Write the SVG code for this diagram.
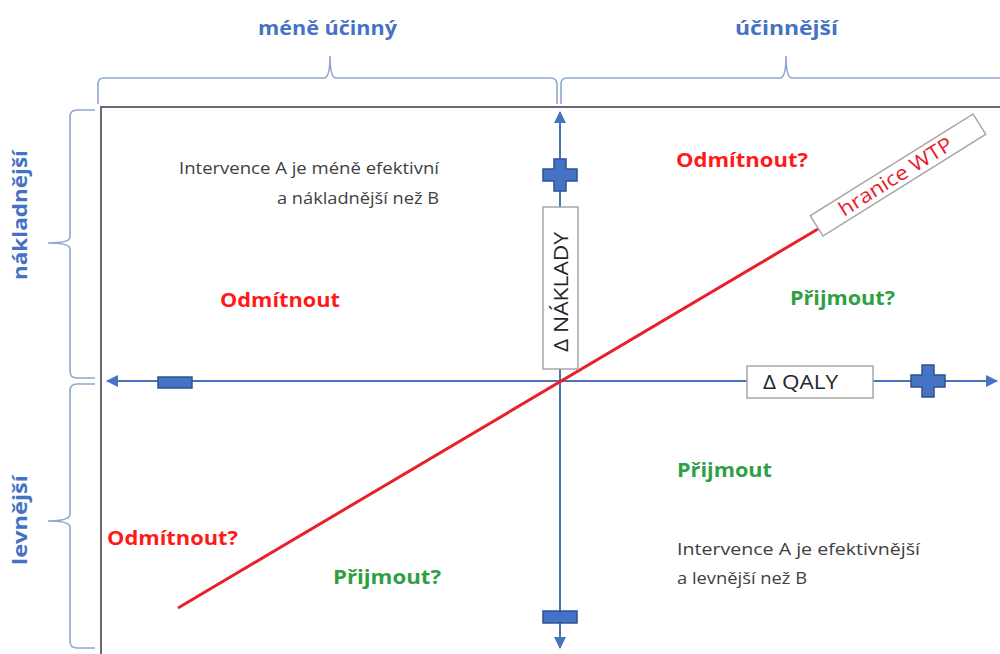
<svg xmlns="http://www.w3.org/2000/svg" width="1000" height="654" viewBox="0 0 1000 654">
  <defs>
    <style>
      .brace { fill: none; stroke: #8EA6D0; stroke-width: 1.6; }
      .axis { stroke: #4A72B8; stroke-width: 2; fill: none; }
      .frame { stroke: #6B6B6B; stroke-width: 2; fill: none; }
      .sym { fill: #4472C4; stroke: #2F528F; stroke-width: 1.5; }
      .lbox { fill: #FFFFFF; stroke: #A6A6A6; stroke-width: 1.5; }
      text { font-family: "Open Sans", "Liberation Sans", sans-serif; }
      .head { font-weight: bold; font-size: 19px; fill: #4472C4; }
      .note { font-size: 16px; fill: #404040; }
      .red { font-weight: bold; font-size: 20px; fill: #FF1A1A; }
      .green { font-weight: bold; font-size: 20px; fill: #2EA043; }
      .axlabel { font-size: 20px; fill: #262626; }
    </style>
    <marker id="tip" viewBox="0 0 12 12" refX="11" refY="6" markerWidth="12" markerHeight="12" orient="auto-start-reverse" markerUnits="userSpaceOnUse">
      <path d="M0,0 L12,6 L0,12 z" fill="#4472C4"/>
    </marker>
  </defs>

  <rect width="1000" height="654" fill="#FFFFFF"/>

  <!-- frame: top and left edges -->
  <g id="frame">
    <path class="frame" d="M101,654 L101,107 L1000,107"/>
  </g>

  <!-- category braces -->
  <g id="braces">
    <path class="brace" d="M98,104 L98,84 Q98,78 104,78 L324,78 Q330,78 330,56 Q330,78 336,78 L550,78 Q557,78 557,84 L557,104"/>
    <path class="brace" d="M561,104 L561,84 Q561,78 567,78 L780,78 Q786,78 786,56 Q786,78 792,78 L1000,78"/>
    <path class="brace" d="M95,110 L77,110 Q70,110 70,117 L70,237 Q70,243 48,243 Q70,243 70,249 L70,371 Q70,378 77,378 L95,378"/>
    <path class="brace" d="M95,384 L77,384 Q70,384 70,391 L70,514 Q70,521 48,521 Q70,521 70,527 L70,641 Q70,648 77,648 L95,648"/>
  </g>

  <g id="label-less-effective"><text class="head" x="258" y="35" textLength="139" lengthAdjust="spacingAndGlyphs">méně účinný</text></g>
  <g id="label-more-effective"><text class="head" x="735" y="35" textLength="103" lengthAdjust="spacingAndGlyphs">účinnější</text></g>
  <g id="label-costlier"><text class="head" transform="translate(27,280) rotate(-90)" textLength="130" lengthAdjust="spacingAndGlyphs">nákladnější</text></g>
  <g id="label-cheaper"><text class="head" transform="translate(27,565) rotate(-90)" textLength="90" lengthAdjust="spacingAndGlyphs">levnější</text></g>

  <!-- axes -->
  <g id="connectors">
    <line class="axis" x1="560" y1="381" x2="560" y2="112" marker-end="url(#tip)"/>
    <line class="axis" x1="560" y1="381" x2="560" y2="648" marker-end="url(#tip)"/>
    <line class="axis" x1="560" y1="381" x2="997" y2="381" marker-end="url(#tip)"/>
    <line class="axis" x1="560" y1="381" x2="107" y2="381" marker-end="url(#tip)"/>
    <!-- willingness-to-pay threshold -->
    <line x1="178" y1="608" x2="818" y2="229" stroke="#E8202A" stroke-width="3"/>
  </g>

  <!-- plus / minus markers on the axes -->
  <g id="cost-plus"><path class="sym" d="M554,159 h12 v10 h11 v12 h-11 v10 h-12 v-10 h-11 v-12 h11 z"/></g>
  <g id="qaly-plus"><path class="sym" d="M922,365 h12 v10 h11 v12 h-11 v10 h-12 v-10 h-11 v-12 h11 z"/></g>
  <g id="qaly-minus"><rect class="sym" x="158" y="377" width="34" height="11"/></g>
  <g id="cost-minus"><rect class="sym" x="543" y="611" width="34" height="12"/></g>

  <!-- axis labels -->
  <g id="cost-axis-label">
    <rect class="lbox" x="543" y="207" width="35" height="162"/>
    <text class="axlabel" transform="translate(568,352) rotate(-90)" textLength="120" lengthAdjust="spacingAndGlyphs">Δ NÁKLADY</text>
  </g>
  <g id="qaly-axis-label">
    <rect class="lbox" x="747" y="366" width="126" height="32"/>
    <text class="axlabel" x="763" y="389" textLength="75" lengthAdjust="spacingAndGlyphs">Δ QALY</text>
  </g>
  <g id="wtp-label">
    <g transform="translate(898,175) rotate(-32)">
      <rect class="lbox" x="-96" y="-12" width="192" height="24"/>
      <text x="-68" y="7" textLength="130" lengthAdjust="spacingAndGlyphs" font-size="20" fill="#E8202A">hranice WTP</text>
    </g>
  </g>

  <!-- quadrant annotations -->
  <g id="note-nw">
    <text class="note" x="179" y="174" textLength="260" lengthAdjust="spacingAndGlyphs">Intervence A je méně efektivní</text>
    <text class="note" x="277" y="204" textLength="162" lengthAdjust="spacingAndGlyphs">a nákladnější než B</text>
  </g>
  <g id="note-se">
    <text class="note" x="677" y="555" textLength="243" lengthAdjust="spacingAndGlyphs">Intervence A je efektivnější</text>
    <text class="note" x="677" y="584" textLength="130" lengthAdjust="spacingAndGlyphs">a levnější než B</text>
  </g>

  <g id="ne-reject"><text class="red" x="676" y="167" textLength="132" lengthAdjust="spacingAndGlyphs">Odmítnout?</text></g>
  <g id="nw-reject"><text class="red" x="220" y="307" textLength="120" lengthAdjust="spacingAndGlyphs">Odmítnout</text></g>
  <g id="ne-accept"><text class="green" x="790" y="305" textLength="105" lengthAdjust="spacingAndGlyphs">Přijmout?</text></g>
  <g id="se-accept"><text class="green" x="677" y="477" textLength="95" lengthAdjust="spacingAndGlyphs">Přijmout</text></g>
  <g id="sw-reject"><text class="red" x="107" y="545" textLength="131" lengthAdjust="spacingAndGlyphs">Odmítnout?</text></g>
  <g id="sw-accept"><text class="green" x="333" y="584" textLength="108" lengthAdjust="spacingAndGlyphs">Přijmout?</text></g>
</svg>
